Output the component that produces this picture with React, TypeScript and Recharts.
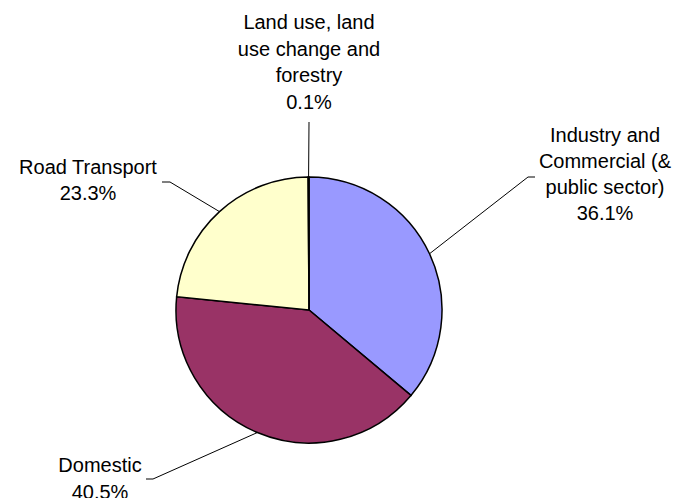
import { PieChart, Pie, Cell } from "recharts";

// Emissions share by sector (%)
const sectors = [
  "Industry and\nCommercial (&\npublic sector)",
  "Domestic",
  "Road Transport",
  "Land use, land\nuse change and\nforestry",
];
const shares = [36.1, 40.5, 23.3, 0.1];
const colors = ["#9999FF", "#993366", "#FFFFCC", "#CCFFFF"];

const data = sectors.map((name, i) => ({ name, value: shares[i] }));

// leader end point + text block placement, relative to pie centre
const labelLayout = [
  { ex: 219, ey: -133, tick: 7, tx: 296, ty: -175, line: 26 },
  { ex: -156, ey: 169, tick: -7, tx: -209, ty: 155, line: 27 },
  { ex: -139, ey: -128, tick: -8, tx: -221, ty: -143, line: 26 },
  { ex: 0, ey: -188, tick: 0, tx: 0, ty: -288, line: 26.5 },
];

const RAD = Math.PI / 180;

function renderLabel(props: any) {
  const { cx, cy, midAngle, outerRadius, index } = props;
  const lay = labelLayout[index];
  const sx = cx + outerRadius * Math.cos(-midAngle * RAD);
  const sy = cy + outerRadius * Math.sin(-midAngle * RAD);
  const ex = cx + lay.ex;
  const ey = cy + lay.ey;
  const lines = [...sectors[index].split("\n"), shares[index].toFixed(1) + "%"];
  return (
    <g key={"lbl" + index}>
      <polyline
        points={`${sx},${sy} ${ex},${ey} ${ex + lay.tick},${ey}`}
        fill="none"
        stroke="#000"
        strokeWidth={1}
      />
      <text
        x={cx + lay.tx}
        y={cy + lay.ty}
        textAnchor="middle"
        dominantBaseline="central"
        fontFamily="'Liberation Sans', Arial, sans-serif"
        fontSize={20}
        fill="#000"
      >
        {lines.map((l, j) => (
          <tspan key={j} x={cx + lay.tx} dy={j === 0 ? 0 : lay.line}>
            {l}
          </tspan>
        ))}
      </text>
    </g>
  );
}

export default function App() {
  return (
    <div style={{ position: "absolute", left: 0, top: 0, background: "#fff" }}>
      <PieChart
        width={679}
        height={498}
        margin={{ top: 0, right: 0, bottom: 0, left: 0 }}
      >
        <Pie
          data={data}
          dataKey="value"
          nameKey="name"
          cx={309}
          cy={310}
          outerRadius={133}
          startAngle={90}
          endAngle={-270}
          stroke="#000"
          strokeWidth={1.5}
          label={renderLabel}
          labelLine={false}
          isAnimationActive={false}
        >
          {data.map((_, i) => (
            <Cell key={i} fill={colors[i]} />
          ))}
        </Pie>
      </PieChart>
    </div>
  );
}
